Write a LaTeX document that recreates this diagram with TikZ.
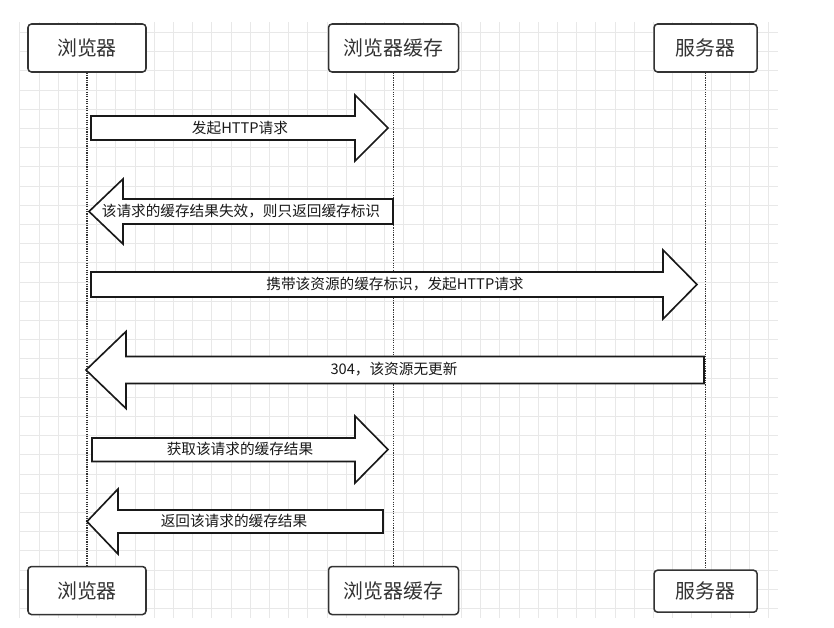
\documentclass[tikz,border=0pt]{standalone}
\usepackage{fontspec}
\setmainfont{Noto Sans CJK SC}
\usetikzlibrary{positioning}

\begin{document}
\begin{tikzpicture}[x=0.03cm, y=-0.03cm,
    actor/.style={draw=black!80, line width=1.3pt, rounded corners=3pt, fill=white, minimum height=1.44cm, font=\fontsize{17}{20}\selectfont, text=black!80},
    lifeline/.style={densely dotted, line width=1pt, black!80},
    bigarrow/.style={draw=black!90, line width=1.4pt, fill=white, line join=miter},
    msg/.style={font=\fontsize{12.5}{14}\selectfont, text=black!90, inner sep=0pt}]
    \useasboundingbox (0,0) rectangle (834,628);
    % background grid
    \foreach \gx in {0,...,39} \draw[black!9, line width=0.7pt] (19.9+\gx*19.2,22) -- (19.9+\gx*19.2,618);
    \foreach \gy in {1,...,31} \draw[black!9, line width=0.7pt] (20,13.3+\gy*19.2) -- (778,13.3+\gy*19.2);

    % participants
    \node[actor, minimum width=3.54cm] (brw) at (87,48) {浏览器};
    \node[actor, minimum width=3.9cm, right=5.43cm of brw] (cch) {浏览器缓存};
    \node[actor, minimum width=3.09cm, right=5.82cm of cch] (srv) {服务器};
    \node[actor, minimum width=3.54cm, below=14.79cm of brw] (brw2) {浏览器};
    \node[actor, minimum width=3.9cm, below=14.79cm of cch] (cch2) {浏览器缓存};
    \node[actor, minimum width=3.09cm, minimum height=1.26cm, below=14.9cm of srv] (srv2) {服务器};
    \draw[lifeline] (brw) -- (brw2);
    \draw[lifeline] (cch) -- (cch2);
    \draw[lifeline] (srv) -- (srv2);

    % messages
    \draw[bigarrow] (91,116) -- (355,116) -- (355,95) -- (388,128) -- (355,161) -- (355,140) -- (91,140) -- cycle;
    \node[msg] (m1) at (240,128) {发起HTTP请求};
    \draw[bigarrow] (393,199) -- (123,199) -- (123,179) -- (89,211.5) -- (123,244) -- (123,224) -- (393,224) -- cycle;
    \node[msg] (m2) at (241,211) {该请求的缓存结果失效，则只返回缓存标识};
    \draw[bigarrow] (91,272) -- (663,272) -- (663,250) -- (697,284.5) -- (663,319) -- (663,297) -- (91,297) -- cycle;
    \node[msg] (m3) at (395,284) {携带该资源的缓存标识，发起HTTP请求};
    \draw[bigarrow] (704,356.5) -- (126,356.5) -- (126,331.5) -- (86,370) -- (126,408.5) -- (126,383.5) -- (704,383.5) -- cycle;
    \node[msg] (m4) at (394,369) {304，该资源无更新};
    \draw[bigarrow] (92,438) -- (355,438) -- (355,416) -- (388,449.5) -- (355,483) -- (355,461.5) -- (92,461.5) -- cycle;
    \node[msg] (m5) at (240,449) {获取该请求的缓存结果};
    \draw[bigarrow] (383,510) -- (118,510) -- (118,489) -- (87,521.5) -- (118,554) -- (118,533) -- (383,533) -- cycle;
    \node[msg] (m6) at (234,521) {返回该请求的缓存结果};
\end{tikzpicture}
\end{document}
